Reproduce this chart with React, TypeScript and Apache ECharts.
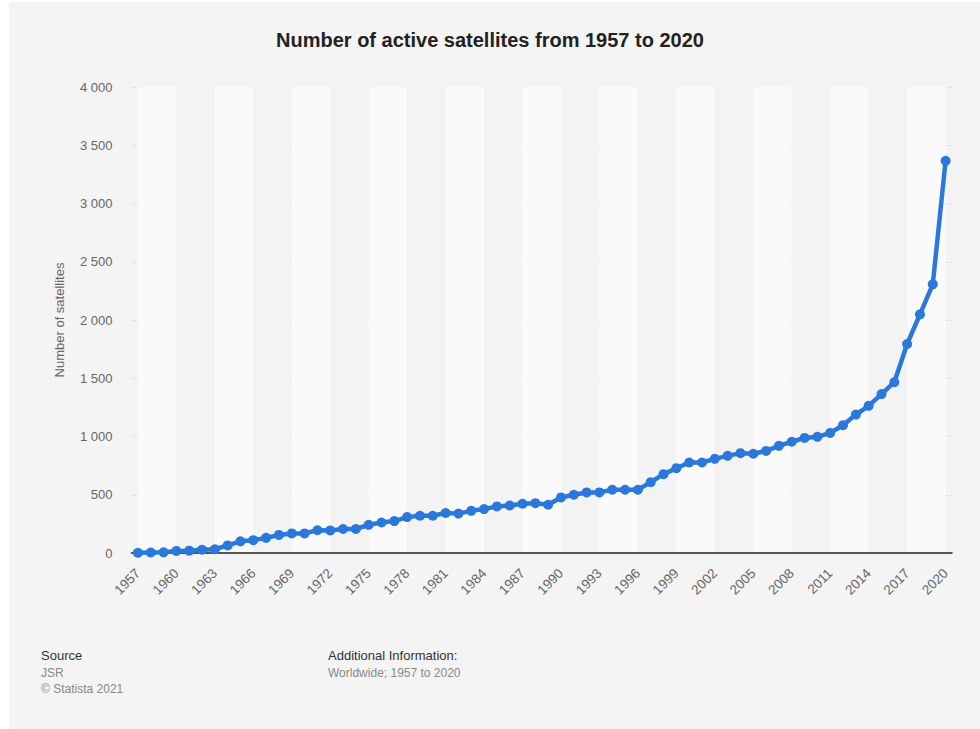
import React, { useEffect, useRef } from "react";
import * as echarts from "echarts";

const years: string[] = [
  "1957","1958","1959","1960","1961","1962","1963","1964","1965","1966",
  "1967","1968","1969","1970","1971","1972","1973","1974","1975","1976",
  "1977","1978","1979","1980","1981","1982","1983","1984","1985","1986",
  "1987","1988","1989","1990","1991","1992","1993","1994","1995","1996",
  "1997","1998","1999","2000","2001","2002","2003","2004","2005","2006",
  "2007","2008","2009","2010","2011","2012","2013","2014","2015","2016",
  "2017","2018","2019","2020",
];

const satellites: number[] = [
  2, 4, 6, 18, 20, 28, 32, 65, 100, 110,
  130, 155, 168, 168, 195, 194, 206, 206, 242, 262,
  274, 308, 320, 320, 343, 338, 362, 377, 400, 408,
  423, 428, 414, 477, 500, 520, 520, 543, 543, 543,
  608, 677, 728, 777, 777, 808, 834, 857, 852, 876,
  920, 955, 988, 997, 1031, 1097, 1188, 1263, 1364, 1466,
  1794, 2048, 2306, 3366,
];

const yTicks = { min: 0, max: 4000, interval: 500 };

const title = "Number of active satellites from 1957 to 2020";
const yName = "Number of satellites";
const sourceLines = ["JSR", "© Statista 2021"];
const infoLines = ["Worldwide; 1957 to 2020"];

const FONT = "'Liberation Sans', Arial, Helvetica, sans-serif";

export default function App() {
  const ref = useRef<HTMLDivElement>(null);
  useEffect(() => {
    document.body.style.margin = "0";
    if (!ref.current) return;
    const chart = echarts.init(ref.current, undefined, { renderer: "svg" });
    chart.setOption({
      animation: false,
      backgroundColor: "#ffffff",
      textStyle: { fontFamily: FONT },
      title: {
        text: title,
        left: "center",
        top: 25,
        textStyle: { fontSize: 20, fontWeight: "bold", color: "#222", fontFamily: FONT },
      },
      grid: {
        left: 131.5,
        right: 28,
        top: 87,
        bottom: 176,
        show: true,
        backgroundColor: "#f3f3f3",
        borderWidth: 0,
      },
      xAxis: {
        type: "category",
        data: years,
        boundaryGap: true,
        axisLine: { show: true, lineStyle: { color: "#222", width: 1.5 } },
        axisTick: { show: false },
        axisLabel: {
          interval: 2,
          rotate: 45,
          color: "#666",
          fontSize: 13.5,
          margin: 18,
          fontFamily: FONT,
        },
        splitLine: { show: false },
        splitArea: {
          show: true,
          interval: 2,
          alignWithLabel: true,
          areaStyle: { color: ["#fafafa", "#f3f3f3"] },
        },
      },
      yAxis: {
        type: "value",
        min: yTicks.min,
        max: yTicks.max,
        interval: yTicks.interval,
        name: yName,
        nameLocation: "middle",
        nameGap: 66,
        nameTextStyle: { color: "#666", fontSize: 13, fontFamily: FONT },
        axisLine: { show: false },
        axisTick: { show: false },
        axisLabel: {
          color: "#666",
          fontSize: 13,
          margin: 19,
          fontFamily: FONT,
          formatter: (v: number) => String(v).replace(/\B(?=(\d{3})+(?!\d))/g, " "),
        },
        splitLine: { show: true, lineStyle: { color: "#cccccc", type: [1, 2], width: 1 } },
      },
      series: [
        {
          type: "line",
          data: satellites,
          symbol: "circle",
          symbolSize: 10,
          showAllSymbol: true,
          lineStyle: { color: "#2a78dc", width: 4.5 },
          itemStyle: { color: "#2a78dc" },
          z: 5,
        },
      ],
      graphic: [
        {
          type: "rect",
          z: -10,
          silent: true,
          shape: { x: 9, y: 2, width: 971, height: 727 },
          style: { fill: "#f4f4f4" },
        },
        {
          type: "text",
          left: 41,
          top: 649,
          style: { text: "Source", fill: "#333", font: `13px ${FONT}` },
        },
        {
          type: "text",
          left: 41,
          top: 665,
          style: { text: sourceLines.join("\n"), fill: "#888", font: `12px ${FONT}`, lineHeight: 16 },
        },
        {
          type: "text",
          left: 328,
          top: 649,
          style: { text: "Additional Information:", fill: "#333", font: `13px ${FONT}` },
        },
        {
          type: "text",
          left: 328,
          top: 665,
          style: { text: infoLines.join("\n"), fill: "#888", font: `12px ${FONT}`, lineHeight: 16 },
        },
      ],
    });
    return () => chart.dispose();
  }, []);
  return <div ref={ref} style={{ width: 980, height: 729 }} />;
}
